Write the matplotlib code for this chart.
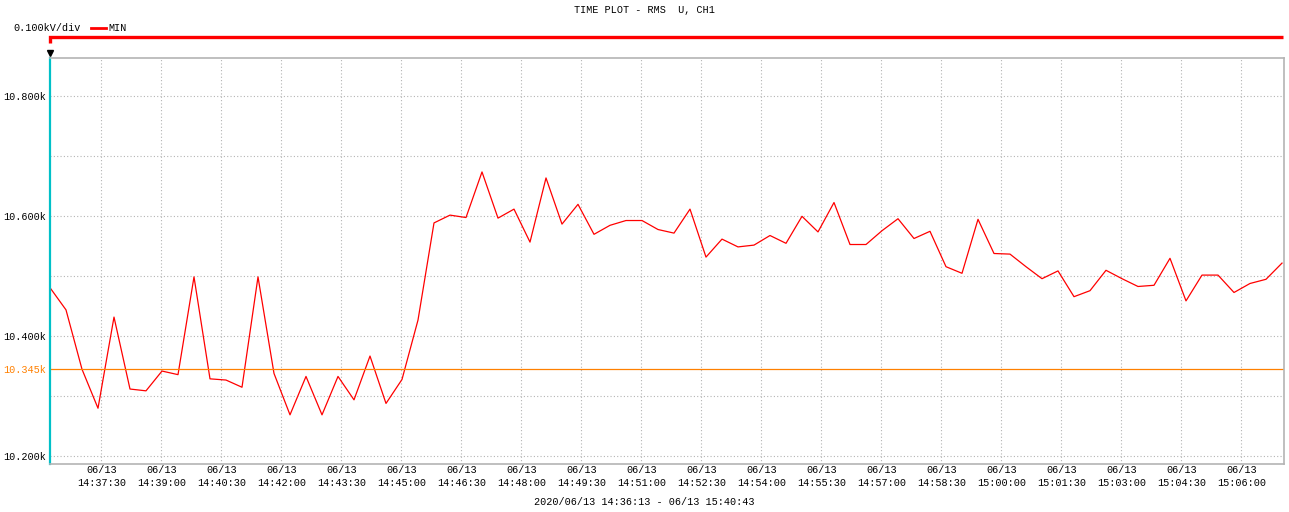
import numpy as np
import pandas as pd
import matplotlib
matplotlib.use("Agg")
import matplotlib.pyplot as plt
import matplotlib.dates as mdates

# RMS U, CH1 - MIN values (kV), one sample every 24 s
start_time = "2020-06-13 14:36:13"
step_seconds = 24
min_kv = [10.481, 10.444, 10.345, 10.280, 10.432, 10.312, 10.309, 10.342, 10.336, 10.499,
          10.329, 10.327, 10.315, 10.499, 10.338, 10.269, 10.333, 10.269, 10.333, 10.294,
          10.367, 10.288, 10.328, 10.427, 10.589, 10.602, 10.598, 10.674, 10.597, 10.612,
          10.557, 10.664, 10.587, 10.620, 10.570, 10.585, 10.593, 10.593, 10.578, 10.572,
          10.612, 10.532, 10.562, 10.549, 10.552, 10.568, 10.555, 10.600, 10.574, 10.623,
          10.553, 10.553, 10.576, 10.596, 10.563, 10.575, 10.516, 10.505, 10.595, 10.538,
          10.537, 10.516, 10.496, 10.509, 10.466, 10.476, 10.510, 10.496, 10.483, 10.485,
          10.530, 10.459, 10.502, 10.502, 10.473, 10.488, 10.495, 10.522]
ref_level = 10.345
y_ticks = [10.2, 10.4, 10.6, 10.8]
y_grid = [10.2, 10.3, 10.4, 10.5, 10.6, 10.7, 10.8]
x_start, x_end = "2020-06-13 14:36:13", "2020-06-13 15:07:04"
tick_first, tick_last = "2020-06-13 14:37:30", "2020-06-13 15:06:00"

times = pd.date_range(start_time, periods=len(min_kv), freq=f"{step_seconds}s")
ticks = pd.date_range(tick_first, tick_last, freq="90s")

W, H = 1289, 512
fig = plt.figure(figsize=(W / 100, H / 100), dpi=100)
L, R, T, B = 50, 1284, 58, 464
ax = fig.add_axes([L / W, 1 - B / H, (R - L) / W, (B - T) / H])

FONT = "Liberation Mono"
FS = 7.3
GRID = "#b4b4b4"

ax.plot(times, min_kv, color="red", lw=0.9)
ax.axhline(ref_level, color="#ff8000", lw=0.9)

ax.set_xlim(pd.Timestamp(x_start), pd.Timestamp(x_end))
ax.set_ylim(10.187, 10.864)

# grid
for yv in y_grid:
    ax.axhline(yv, color=GRID, lw=0.8, ls=(0, (1, 2)), zorder=0)
for t in ticks:
    ax.axvline(t, color=GRID, lw=0.8, ls=(0, (1, 2)), zorder=0)

ax.set_xticks(ticks)
ax.xaxis.set_major_formatter(mdates.DateFormatter("%m/%d\n%H:%M:%S"))
ax.set_yticks(y_ticks + [ref_level])
ax.set_yticklabels([f"{v:.3f}k" for v in y_ticks] + [f"{ref_level:.3f}k"])
ax.get_yticklabels()[-1].set_color("#ff8000")
ax.tick_params(length=0, labelsize=FS)
ax.tick_params(axis="x", pad=1)
ax.tick_params(axis="y", pad=3)
for lab in ax.get_xticklabels() + ax.get_yticklabels():
    lab.set_fontfamily(FONT)
    lab.set_linespacing(1.3)

for s in ["top", "right", "bottom"]:
    ax.spines[s].set_color(GRID)
    ax.spines[s].set_linewidth(1.2)
ax.spines["left"].set_color("#00c0c8")
ax.spines["left"].set_linewidth(1.6)

# header: title, scale, legend, red bar
fig.text(0.5, 1 - 10 / H, "TIME PLOT - RMS  U, CH1", ha="center", va="center",
         fontsize=FS, family=FONT)
fig.text(13 / W, 1 - 28 / H, "0.100kV/div", ha="left", va="center", fontsize=FS, family=FONT)
fig.add_artist(plt.Line2D([91 / W, 106 / W], [1 - 28 / H] * 2, color="red", lw=2))
fig.text(108 / W, 1 - 28 / H, "MIN", ha="left", va="center", fontsize=FS, family=FONT)

bar_y = 1 + (T - 37) / (B - T)
tick_y = 1 + (T - 43) / (B - T)
ax.plot([0, 0, 0.9995], [tick_y, bar_y, bar_y], transform=ax.transAxes, color="red",
        lw=2.4, clip_on=False, solid_joinstyle="miter", solid_capstyle="butt")
ax.plot([0], [1 + 5 / (B - T)], transform=ax.transAxes, marker="v", color="black",
        ms=5, clip_on=False)

fig.text(0.5, 1 - 502 / H, "2020/06/13 14:36:13 - 06/13 15:40:43", ha="center",
         va="center", fontsize=FS, family=FONT)

fig.savefig("out.png", dpi=100)
